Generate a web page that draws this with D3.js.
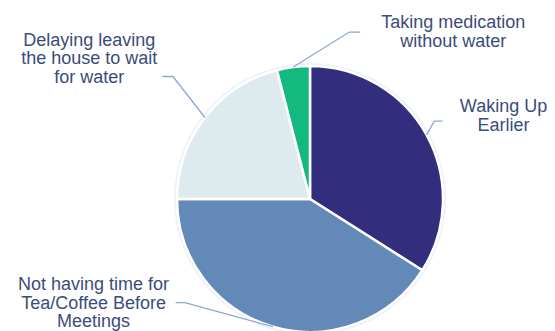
<!DOCTYPE html>
<html>
<head>
<meta charset="utf-8">
<script src="https://cdn.jsdelivr.net/npm/d3@7/dist/d3.min.js"></script>
<style>
html,body{margin:0;padding:0;background:#fff;}
svg{display:block;}
</style>
</head>
<body>
<svg id="chart" width="555" height="331"></svg>
<script>
// ---- data ----
const categories = ["Waking Up Earlier", "Not having time for Tea/Coffee Before Meetings", "Delaying leaving the house to wait for water", "Taking medication without water"];
const values = [34, 41, 21, 4];
const labelLines = [
  ["Waking Up", "Earlier"],
  ["Not having time for", "Tea/Coffee Before", "Meetings"],
  ["Delaying leaving", "the house to wait", "for water"],
  ["Taking medication", "without water"]
];
const colors = ["#322d7c", "#6289b7", "#ddebef", "#13b97f"];

// ---- layout (style/positions, not data) ----
const W = 555, H = 331;
const cx = 310, cy = 199, R = 133;
const labelLayout = [
  {elbow: [7.7, -13.8], run: 8.3,  text: [61, -9],    anchor: "middle"},
  {elbow: [-88, -24],   run: -9.3, text: [-82, -12.7], anchor: "middle"},
  {elbow: [-32, -41],   run: -10.6,text: [-73, -30.7], anchor: "middle"},
  {elbow: [56, -35],    run: 11,   text: [93, -4],    anchor: "middle"}
];
const lineH = 18.6;

const svg = d3.select("#chart");
const g = svg.append("g").attr("transform", `translate(${cx},${cy})`);

const pie = d3.pie().sort(null).value(d => d)(values);
const arc = d3.arc().innerRadius(0).outerRadius(R);
const edge = d3.arc().innerRadius(R).outerRadius(R);

// faint halo
g.append("circle").attr("r", R + 1.5).attr("fill", "none").attr("stroke", "#edf2f8").attr("stroke-width", 3);

g.selectAll("path.slice").data(pie).enter().append("path")
  .attr("class", "slice")
  .attr("d", arc)
  .attr("fill", (d, i) => colors[i])
  .attr("stroke", "#ffffff")
  .attr("stroke-width", 2.5)
  .attr("stroke-linejoin", "round");

const labels = svg.append("g");
pie.forEach((d, i) => {
  const p = edge.centroid(d);
  const L = labelLayout[i];
  const ex = p[0] + L.elbow[0], ey = p[1] + L.elbow[1];
  const endX = ex + L.run, endY = ey;
  g.append("path")
    .attr("d", d3.line()([p, [ex, ey], [endX, endY]]))
    .attr("fill", "none")
    .attr("stroke", "#8ea6d4")
    .attr("stroke-width", 1.3);
  const tx = cx + endX + L.text[0], ty = cy + endY + L.text[1];
  const t = labels.append("text")
    .attr("x", tx).attr("y", ty)
    .attr("text-anchor", L.anchor)
    .attr("font-family", "Liberation Sans, Arial, sans-serif")
    .attr("font-size", 18)
    .attr("fill", "#3b4c7c");
  labelLines[i].forEach((ln, k) => {
    t.append("tspan").attr("x", tx).attr("y", ty + k * lineH).text(ln);
  });
});
</script>
</body>
</html>
